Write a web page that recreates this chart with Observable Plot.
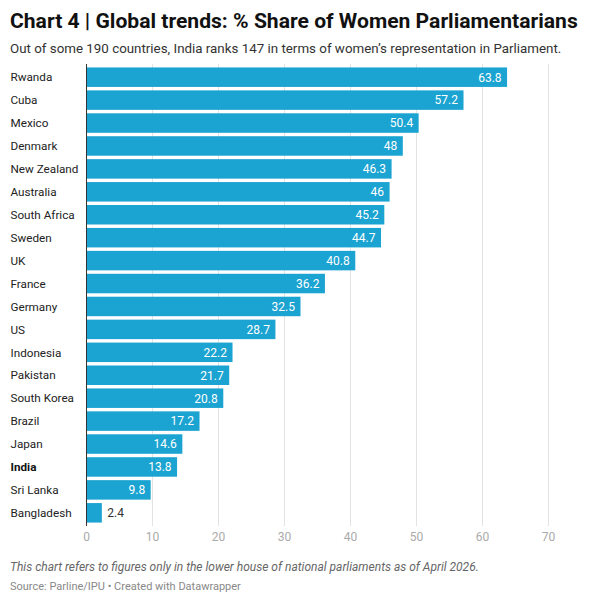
<!DOCTYPE html>
<html>
<head>
<meta charset="utf-8">
<script src="https://cdn.jsdelivr.net/npm/d3@7"></script>
<script src="https://cdn.jsdelivr.net/npm/@observablehq/plot@0.6"></script>
<style>
  body { margin: 0; font-family: Roboto, sans-serif; background: #fff; }
  #wrap { width: 592px; }
  .title { font-size: 21.1px; font-weight: 700; color: #111; padding: 8px 0 0 10px; line-height: 26px; }
  .sub { font-size: 13.35px; color: #333; padding: 6px 0 0 10px; line-height: 18px; }
  #chart svg { display: block; }
  .note { font-size: 12px; font-style: italic; color: #666; padding: 8px 0 0 10px; }
  .src { font-size: 11px; color: #888; padding: 6px 0 0 10px; }
</style>
</head>
<body>
<div id="wrap">
  <div class="title">Chart 4 | Global trends: % Share of Women Parliamentarians</div>
  <div class="sub">Out of some 190 countries, India ranks 147 in terms of women’s representation in Parliament.</div>
  <div id="chart"></div>
  <div class="note">This chart refers to figures only in the lower house of national parliaments as of April 2026.</div>
  <div class="src">Source: Parline/IPU • Created with Datawrapper</div>
</div>
<script>
const countries = ["Rwanda", "Cuba", "Mexico", "Denmark", "New Zealand", "Australia", "South Africa", "Sweden", "UK", "France", "Germany", "US", "Indonesia", "Pakistan", "South Korea", "Brazil", "Japan", "India", "Sri Lanka", "Bangladesh"];
const shares = [63.8, 57.2, 50.4, 48, 46.3, 46, 45.2, 44.7, 40.8, 36.2, 32.5, 28.7, 22.2, 21.7, 20.8, 17.2, 14.6, 13.8, 9.8, 2.4];
const xTicks = [0, 10, 20, 30, 40, 50, 60, 70];

const data = countries.map((c, i) => ({country: c, share: shares[i]}));
const small = d => d.share < 5;

const chart = Plot.plot({
  width: 592,
  height: 494,
  marginLeft: 86,
  marginRight: 44,
  marginTop: 6,
  marginBottom: 26,
  style: {fontFamily: "Roboto, sans-serif", fontSize: "12px"},
  x: {domain: [0, 70], ticks: xTicks},
  y: {domain: countries, padding: 0.15, round: false, axis: null},
  marks: [
    Plot.gridX(xTicks.slice(1), {stroke: "#e3e3e3", strokeOpacity: 1}),
    Plot.axisX(xTicks, {tickSize: 0, tickPadding: 6, fill: "#aaa", fontSize: 12, label: null}),
    Plot.barX(data, {x: "share", y: "country", fill: "#1ba3d1"}),
    Plot.ruleX([0], {stroke: "#333", strokeWidth: 1}),
    Plot.text(data.filter(d => !small(d)), {x: "share", y: "country", text: d => String(d.share), textAnchor: "end", dx: -6, fill: "#fff", fontSize: 12}),
    Plot.text(data.filter(small), {x: "share", y: "country", text: d => String(d.share), textAnchor: "start", dx: 5, fill: "#333", fontSize: 12}),
    Plot.text(data.filter(d => d.country !== "India"), {y: "country", text: "country", frameAnchor: "left", textAnchor: "start", dx: -76, fill: "#222", fontSize: 11.7}),
    Plot.text(data.filter(d => d.country === "India"), {y: "country", text: "country", frameAnchor: "left", textAnchor: "start", dx: -76, fill: "#111", fontSize: 11.7, fontWeight: "bold"})
  ]
});
document.getElementById("chart").append(chart);
</script>
</body>
</html>
